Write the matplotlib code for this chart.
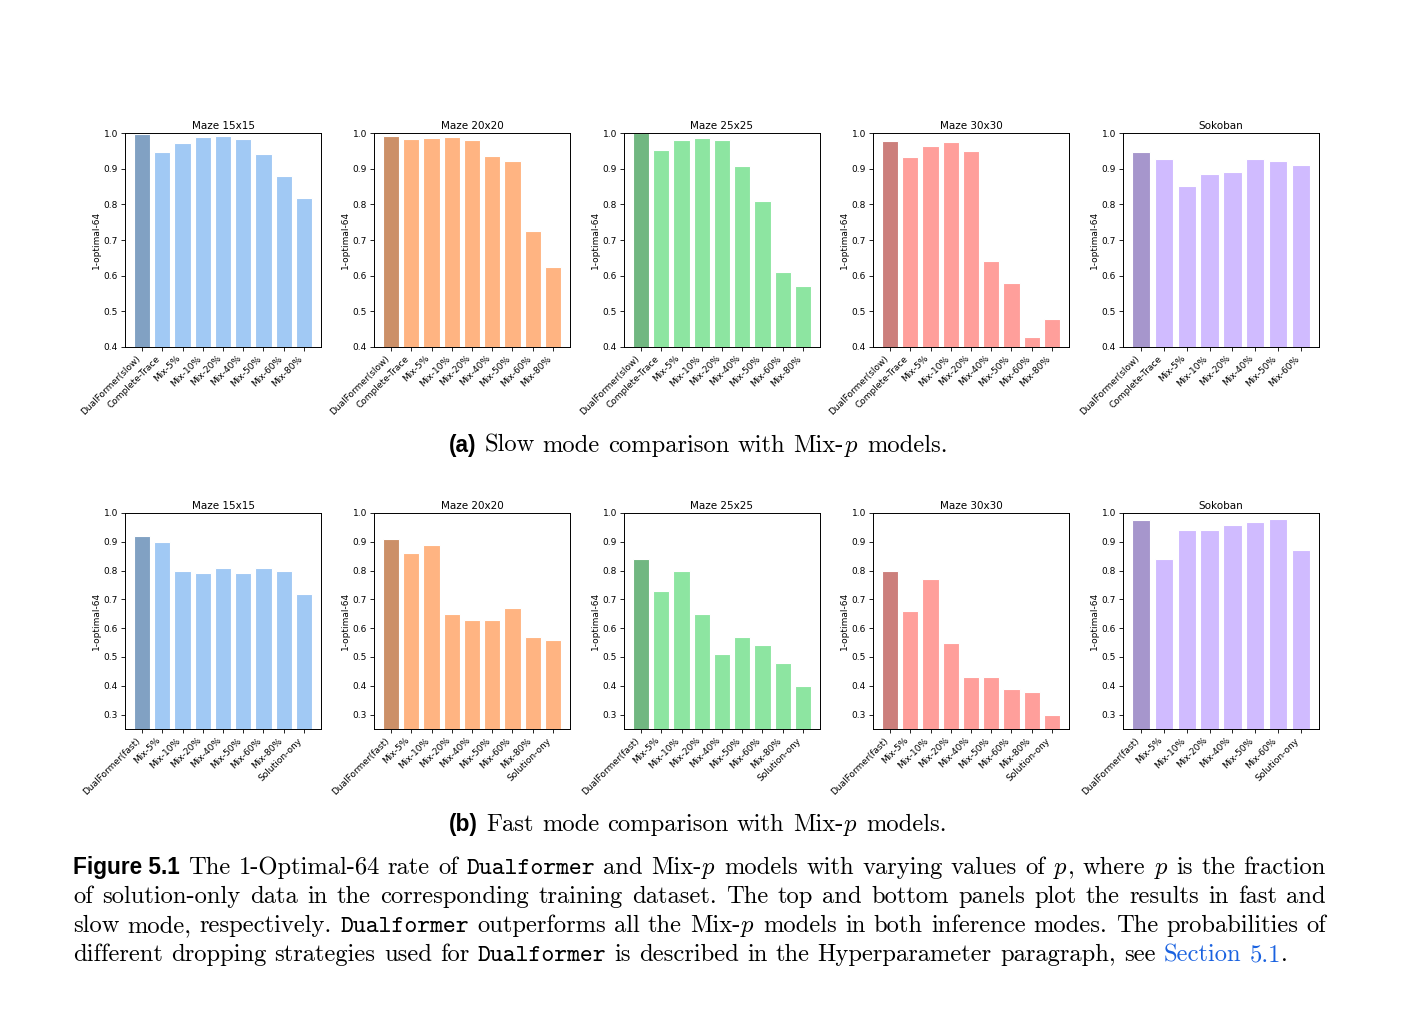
import numpy as np
import matplotlib
matplotlib.use("Agg")
import matplotlib.pyplot as plt
from matplotlib.colors import to_rgb

plt.rcParams['mathtext.fontset'] = 'cm'

# ---- data ----
titles = ["Maze 15x15", "Maze 20x20", "Maze 25x25", "Maze 30x30", "Sokoban"]
colors = ["#a1c9f4", "#ffb482", "#8de5a1", "#ff9f9b", "#d0bbff"]

slow_labels = ["DualFormer(slow)", "Complete-Trace", "Mix-5%", "Mix-10%", "Mix-20%",
               "Mix-40%", "Mix-50%", "Mix-60%", "Mix-80%"]
slow_labels_sok = ["DualFormer(slow)", "Complete-Trace", "Mix-5%", "Mix-10%", "Mix-20%",
                   "Mix-40%", "Mix-50%", "Mix-60%"]
slow_15 = [0.997, 0.946, 0.971, 0.990, 0.991, 0.984, 0.942, 0.880, 0.817]
slow_20 = [0.992, 0.983, 0.985, 0.989, 0.979, 0.935, 0.922, 0.725, 0.623]
slow_25 = [1.000, 0.952, 0.979, 0.987, 0.979, 0.907, 0.810, 0.609, 0.571]
slow_30 = [0.978, 0.933, 0.963, 0.976, 0.950, 0.642, 0.579, 0.429, 0.478]
slow_sok = [0.946, 0.928, 0.852, 0.886, 0.891, 0.927, 0.922, 0.911]

fast_labels = ["DualFormer(fast)", "Mix-5%", "Mix-10%", "Mix-20%", "Mix-40%",
               "Mix-50%", "Mix-60%", "Mix-80%", "Solution-ony"]
fast_labels_sok = ["DualFormer(fast)", "Mix-5%", "Mix-10%", "Mix-20%", "Mix-40%",
                   "Mix-50%", "Mix-60%", "Solution-ony"]
fast_15 = [0.92, 0.90, 0.80, 0.79, 0.81, 0.79, 0.81, 0.80, 0.72]
fast_20 = [0.91, 0.86, 0.89, 0.65, 0.63, 0.63, 0.67, 0.57, 0.56]
fast_25 = [0.84, 0.73, 0.80, 0.65, 0.51, 0.57, 0.54, 0.48, 0.40]
fast_30 = [0.80, 0.66, 0.77, 0.55, 0.43, 0.43, 0.39, 0.38, 0.30]
fast_sok = [0.975, 0.84, 0.94, 0.94, 0.96, 0.97, 0.98, 0.87]

slow_rows = [(slow_labels, slow_15), (slow_labels, slow_20), (slow_labels, slow_25),
             (slow_labels, slow_30), (slow_labels_sok, slow_sok)]
fast_rows = [(fast_labels, fast_15), (fast_labels, fast_20), (fast_labels, fast_25),
             (fast_labels, fast_30), (fast_labels_sok, fast_sok)]

W, H = 1404, 1010
fig = plt.figure(figsize=(W / 100, H / 100), dpi=100)

lefts = [125, 374, 624, 873, 1123]
ax_w = 196


def panel(left, top, bottom, title, labels, vals, color, ylim, yticks):
    ax = fig.add_axes([left / W, 1 - bottom / H, ax_w / W, (bottom - top) / H])
    light = to_rgb(color)
    dark = tuple(c * 0.8 for c in light)
    cols = [dark] + [light] * (len(vals) - 1)
    ax.bar(np.arange(len(vals)), vals, color=cols, edgecolor="white", linewidth=0.8)
    ax.set_ylim(*ylim)
    ax.set_yticks(yticks)
    ax.set_xticks(np.arange(len(vals)))
    ax.set_xticklabels(labels, rotation=45, ha="right")
    ax.tick_params(labelsize=6.5, length=3, width=0.6, pad=2)
    ax.set_ylabel("1-optimal-64", fontsize=6.5, labelpad=2)
    ax.set_title(title, fontsize=7.5, pad=3)
    for s in ax.spines.values():
        s.set_linewidth(0.7)
    return ax


for i, (labels, vals) in enumerate(slow_rows):
    panel(lefts[i], 133, 347, titles[i], labels, vals, colors[i], (0.4, 1.0),
          np.arange(0.4, 1.01, 0.1))
for i, (labels, vals) in enumerate(fast_rows):
    panel(lefts[i], 513, 729, titles[i], labels, vals, colors[i], (0.25, 1.0),
          np.arange(0.3, 1.01, 0.1))

# ---- captions ----
FS = 17.7
renderer = fig.canvas.get_renderer()


def style(kind):
    if kind == "bf":
        return dict(family="Liberation Sans", weight="bold", fontsize=FS * 0.92)
    if kind == "tt":
        return dict(family="cmtt10", fontsize=FS)
    if kind == "it":
        return dict(fontsize=FS)
    if kind == "link":
        return dict(family="cmr10", fontsize=FS, color="#1a62e0")
    return dict(family="cmr10", fontsize=FS)


def make_word(pieces, y):
    out = []
    for s, kind in pieces:
        txt = "$%s$" % s if kind == "it" else s
        t = fig.text(0, 1 - y / H, txt, va="baseline", ha="left", **style(kind))
        out.append((t, t.get_window_extent(renderer).width))
    return out


def layout_line(words, y, x0, x1=None, center=None):
    built = [make_word(w, y) for w in words]
    widths = [sum(p[1] for p in w) for w in built]
    space = FS * 100 / 72 * 0.333
    total = sum(widths) + space * (len(built) - 1)
    if x1 is not None:
        space = (x1 - x0 - sum(widths)) / (len(built) - 1)
    elif center is not None:
        x0 = center - total / 2
    x = x0
    for w, wd in zip(built, widths):
        xx = x
        for t, pw in w:
            t.set_x(xx / W)
            xx += pw
        x += wd + space


def words_of(s):
    return [[(w, "rm")] for w in s.split()]


MIXP = [("Mix-", "rm"), ("p", "it")]
DUAL = [("Dualformer", "tt")]

layout_line([[("(a)", "bf")]] + words_of("Slow mode comparison with") + [MIXP]
            + words_of("models."), 452, 0, center=698)
layout_line([[("(b)", "bf")]] + words_of("Fast mode comparison with") + [MIXP]
            + words_of("models."), 831, 0, center=698)

line1 = ([[("Figure 5.1", "bf")]] + words_of("The 1-Optimal-64 rate of") + [DUAL]
         + words_of("and") + [MIXP] + words_of("models with varying values of")
         + [[("p", "it"), (",", "rm")]] + words_of("where") + [[("p", "it")]]
         + words_of("is the fraction"))
line2 = words_of("of solution-only data in the corresponding training dataset. "
                 "The top and bottom panels plot the results in fast and")
line3 = (words_of("slow mode, respectively.") + [DUAL] + words_of("outperforms all the")
         + [MIXP] + words_of("models in both inference modes. The probabilities of"))
line4 = (words_of("different dropping strategies used for") + [DUAL]
         + words_of("is described in the Hyperparameter paragraph, see")
         + [[("Section", "link")], [("5.1", "link"), (".", "rm")]])

layout_line(line1, 874, 73, x1=1326)
layout_line(line2, 903, 73, x1=1326)
layout_line(line3, 932, 73, x1=1326)
layout_line(line4, 961, 73)

fig.savefig("out.png", dpi=100)
